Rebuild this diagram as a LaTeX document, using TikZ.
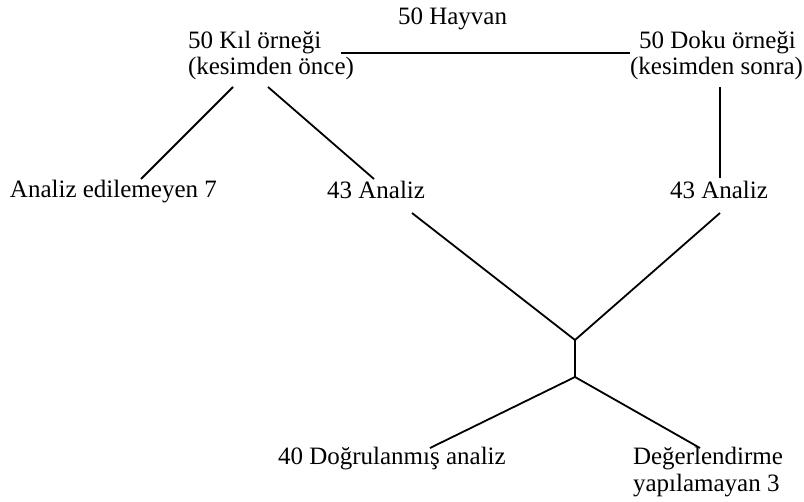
\documentclass[tikz,border=0pt]{standalone}
\usepackage{fontspec}
\setmainfont{Liberation Serif}
\begin{document}
\begin{tikzpicture}[x=0.5pt,y=-0.5pt,
  lbl/.style={inner sep=0pt, outer sep=0pt, anchor=base west, font=\fontsize{12.5}{15}\selectfont},
  link/.style={line width=0.9pt, line cap=butt}]
\useasboundingbox (0,0) rectangle (804,502);

% labels
\node[lbl] (hayvan)  at (398,25)  {50 Hayvan};
\node[lbl] (kil)     at (188,49)  {50 Kıl örneği};
\node[lbl] (kilsub)  at (188,75)  {(kesimden önce)};
\node[lbl] (doku)    at (639,49)  {50 Doku örneği};
\node[lbl, anchor=base east] (dokusub) at (803,75) {(kesimden sonra)};
\node[lbl] (fail)    at (10,198)  {Analiz edilemeyen 7};
\node[lbl, anchor=base east] (anl) at (425,199) {43 Analiz};
\node[lbl] (anr)     at (670,199) {43 Analiz};
\node[lbl] (ok)      at (278,465) {40 Doğrulanmış analiz};
\node[lbl] (eval1)   at (633,465) {Değerlendirme};
\node[lbl] (eval2)   at (633,492) {yapılamayan 3};

% connector end points
\coordinate (tl) at (341,53);
\coordinate (tr) at (630,53);
\coordinate (kA) at (233,87);
\coordinate (kB) at (268,87);
\coordinate (fA) at (141,179);
\coordinate (aA) at (374,179);
\coordinate (dA) at (720,87);
\coordinate (dB) at (720,178);
\coordinate (mL) at (412,213);
\coordinate (mR) at (720,213);
\coordinate (j1) at (575,340);
\coordinate (j2) at (575,377);
\coordinate (bL) at (430,448);
\coordinate (bR) at (700,448);

\draw[link] (tl) -- (tr);
\draw[link] (kA) -- (fA);
\draw[link] (kB) -- (aA);
\draw[link] (dA) -- (dB);
\draw[link] (mL) -- (j1);
\draw[link] (mR) -- (j1);
\draw[link] (j1) -- (j2);
\draw[link] (j2) -- (bL);
\draw[link] (j2) -- (bR);
\end{tikzpicture}
\end{document}
